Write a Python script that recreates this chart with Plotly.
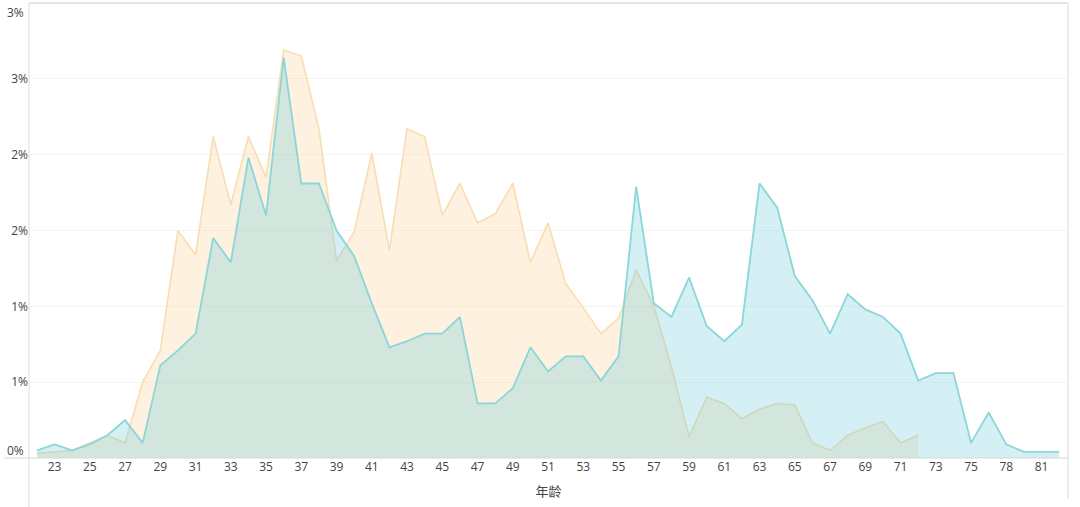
import plotly.graph_objects as go

# ---------------------------------------------------------------------------
# Data (percent share by age)
# ---------------------------------------------------------------------------
ages = [22, 23, 24, 25, 26, 27, 28, 29, 30, 31, 32, 33, 34, 35, 36, 37, 38, 39,
        40, 41, 42, 43, 44, 45, 46, 47, 48, 49, 50, 51, 52, 53, 54, 55, 56, 57,
        58, 59, 60, 61, 62, 63, 64, 65, 66, 67, 68, 69, 70, 71, 72, 73, 74, 75,
        76, 78, 79, 81, 82]

# orange series stops at age 72
ages_orange = ages[:ages.index(72) + 1]
orange_pct = [0.03, 0.04, 0.05, 0.10, 0.15, 0.10, 0.50, 0.71, 1.50, 1.34,
              2.12, 1.67, 2.12, 1.85, 2.69, 2.65, 2.17, 1.30, 1.49, 2.01,
              1.37, 2.17, 2.12, 1.60, 1.81, 1.55, 1.61, 1.81, 1.29, 1.55,
              1.15, 0.99, 0.82, 0.92, 1.24, 1.00, 0.60, 0.14, 0.40, 0.36,
              0.26, 0.32, 0.36, 0.35, 0.10, 0.05, 0.15, 0.20, 0.24, 0.10,
              0.15]

cyan_pct = [0.05, 0.09, 0.05, 0.09, 0.15, 0.25, 0.10, 0.61, 0.71, 0.82,
            1.45, 1.29, 1.98, 1.60, 2.64, 1.81, 1.81, 1.50, 1.33, 1.02,
            0.73, 0.77, 0.82, 0.82, 0.93, 0.36, 0.36, 0.46, 0.73, 0.57,
            0.67, 0.67, 0.51, 0.67, 1.79, 1.02, 0.93, 1.19, 0.87, 0.77,
            0.88, 1.81, 1.65, 1.20, 1.04, 0.82, 1.08, 0.98, 0.93, 0.82,
            0.51, 0.56, 0.56, 0.10, 0.30, 0.09, 0.04, 0.04, 0.04]

y_tickvals = [0, 0.5, 1.0, 1.5, 2.0, 2.5, 3.0]
y_ticktext = ["0%", "1%", "1%", "2%", "2%", "3%", "3%"]

x_labels = [str(a) for a in ages]
x_tick_labels = x_labels[1::2]

# ---------------------------------------------------------------------------
# Figure
# ---------------------------------------------------------------------------
fig = go.Figure()

fig.add_trace(go.Scatter(
    x=[str(a) for a in ages_orange], y=orange_pct,
    mode="lines", fill="tozeroy", name="系列1",
    line=dict(color="#F9DDB2", width=1.6),
    fillcolor="rgba(250,200,130,0.25)",
))
fig.add_trace(go.Scatter(
    x=x_labels, y=cyan_pct,
    mode="lines", fill="tozeroy", name="系列2",
    line=dict(color="#8AD6D9", width=1.8),
    fillcolor="rgba(100,200,215,0.28)",
))

# the end labels sit inside the plot edge in the original, so they are
# drawn as annotations; the inner ones are normal tick labels
inner = slice(1, -1)
end_labels = [
    dict(x=0, y=y_tickvals[0], text=y_ticktext[0], yshift=8),
    dict(x=0, y=y_tickvals[-1], text=y_ticktext[-1], yshift=-9),
]
annotations = [dict(a, xref="paper", yref="y", xanchor="right", xshift=-3,
                    showarrow=False, font=dict(size=12, color="#444"))
               for a in end_labels]

grey = "#DDDDDD"
fig.update_layout(
    width=1080, height=507,
    margin=dict(l=29, r=12, t=3, b=49),
    paper_bgcolor="white", plot_bgcolor="white",
    showlegend=False,
    font=dict(family="Open Sans, Noto Sans CJK SC, sans-serif", size=12, color="#444"),
    xaxis=dict(
        type="category", automargin=False,
        categoryorder="array", categoryarray=x_labels,
        tickmode="array", tickvals=x_tick_labels, ticktext=x_tick_labels,
        range=[-0.45, len(ages) - 0.5],
        showgrid=False, zeroline=False,
        showline=False, ticks="",
        tickfont=dict(size=12, color="#444"),
        title=dict(text="年龄", standoff=12,
                   font=dict(family="Noto Sans CJK SC, sans-serif", size=13, color="#444")),
    ),
    yaxis=dict(
        range=[0, 3.0], automargin=False,
        tickmode="array", tickvals=y_tickvals[inner], ticktext=y_ticktext[inner],
        showgrid=True, gridcolor="#F4F4F4", gridwidth=1,
        zeroline=False, showline=False, ticks="",
        tickfont=dict(size=12, color="#444"),
    ),
    annotations=annotations,
    shapes=[
        # card border / axis lines
        dict(type="line", xref="paper", yref="paper", x0=0, x1=0, y0=-0.11, y1=1,
             line=dict(color=grey, width=1)),
        dict(type="line", xref="paper", yref="paper", x0=1, x1=1, y0=-0.09, y1=1,
             line=dict(color="#E6E6E6", width=1.5)),
        dict(type="line", xref="paper", yref="paper", x0=0, x1=1, y0=1, y1=1,
             line=dict(color=grey, width=1.5)),
        dict(type="line", xref="paper", yref="paper", x0=-0.024, x1=1, y0=0, y1=0,
             line=dict(color="#D6D6D6", width=1)),
    ],
)

fig.write_html("out.html", config={"displayModeBar": False},
               post_script="document.body.style.margin='0';")
